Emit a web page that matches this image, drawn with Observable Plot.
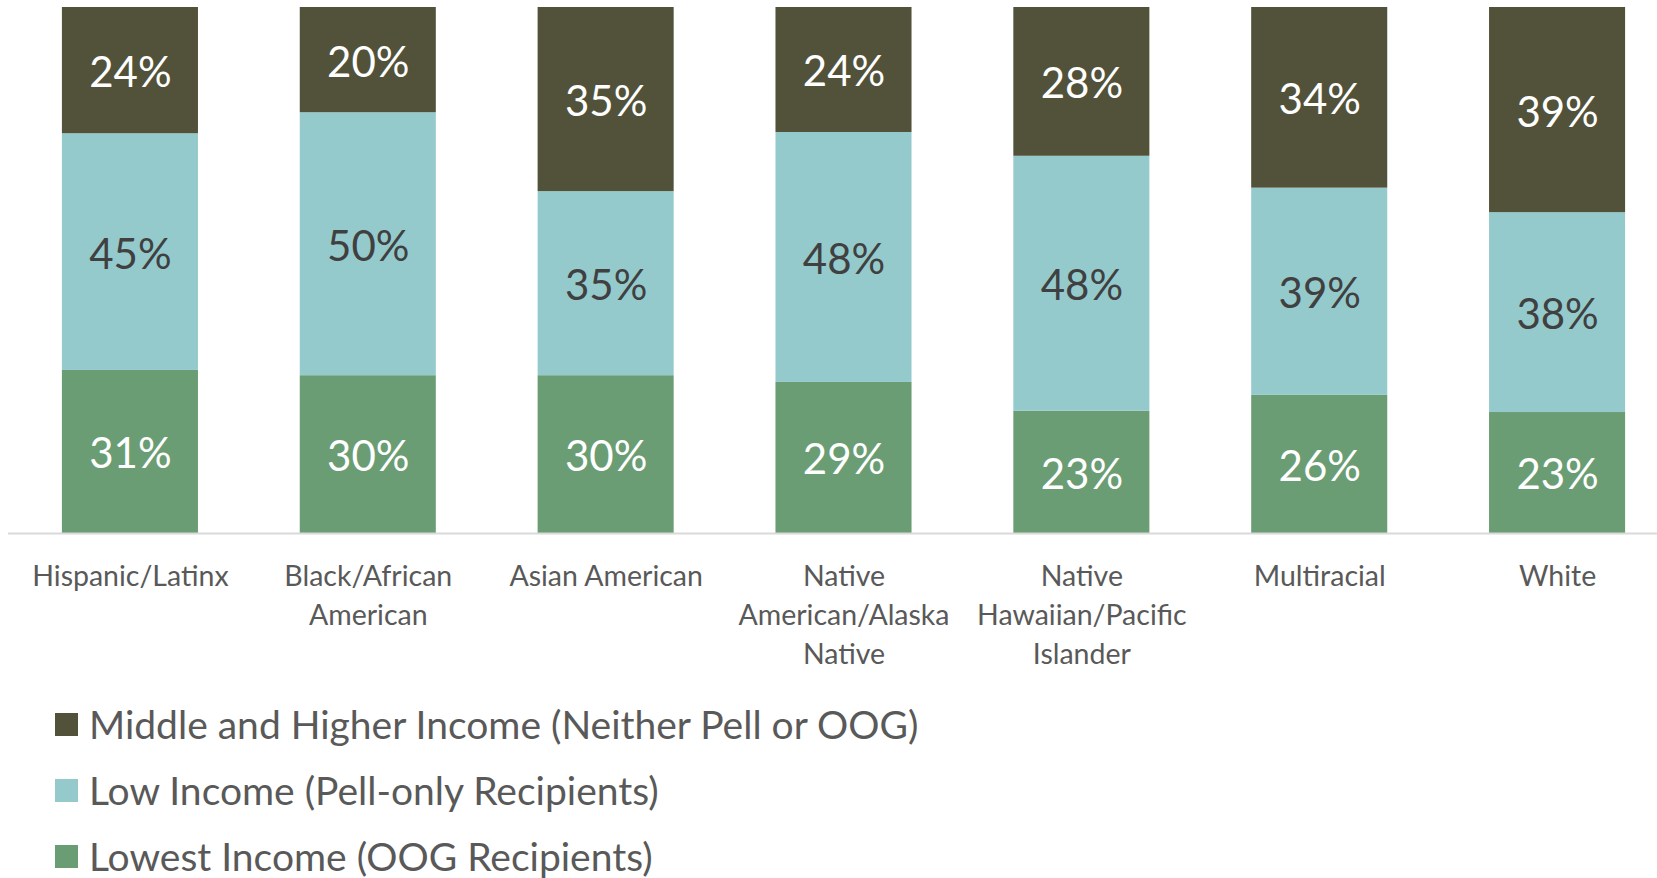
<!DOCTYPE html>
<html>
<head>
<meta charset="utf-8">
<script src="https://cdn.jsdelivr.net/npm/d3@7"></script>
<script src="https://cdn.jsdelivr.net/npm/@observablehq/plot@0.6"></script>
<style>
  html, body { margin: 0; padding: 0; background: #ffffff; }
  #chart svg { display: block; }
  #legend { font-family: Lato, sans-serif; color: #595959; padding-left: 55px; margin-top: 11px; }
  .item { display: flex; align-items: center; height: 66px; font-size: 39px; line-height: 1; white-space: nowrap; }
  .sw { width: 23px; height: 23px; margin-right: 11px; flex: none; }
</style>
</head>
<body>
<div id="chart"></div>
<div id="legend"></div>
<script>
const categories = ["Hispanic/Latinx", "Black/African American", "Asian American", "Native American/Alaska Native", "Native Hawaiian/Pacific Islander", "Multiracial", "White"];
const tickLabels = ["Hispanic/Latinx", "Black/African\nAmerican", "Asian American", "Native\nAmerican/Alaska\nNative", "Native\nHawaiian/Pacific\nIslander", "Multiracial", "White"];
const series = ["Lowest Income (OOG Recipients)", "Low Income (Pell-only Recipients)", "Middle and Higher Income (Neither Pell or OOG)"];
const lowest = [31, 30, 30, 29, 23, 26, 23];
const low = [45, 50, 35, 48, 48, 39, 38];
const middle = [24, 20, 35, 24, 28, 34, 39];
const colors = ["#6b9d74", "#95cacd", "#52523a"];
const labelColors = ["#ffffff", "#404040", "#ffffff"];
const legendOrder = [2, 1, 0];

const seriesValues = [lowest, low, middle];
const rows = categories.flatMap((c, i) => series.map((s, k) => ({category: c, series: s, value: seriesValues[k][i]})));

const labelMarks = series.map((s, k) =>
  Plot.text(rows, Plot.filter(d => d.series === s,
    Plot.stackY({offset: "normalize"}, {
      x: "category", y: "value", z: "series",
      text: d => d.value + "%",
      fill: labelColors[k], fontSize: 42, dy: 3
    })))
);

const chart = Plot.plot({
  width: 1657,
  height: 680,
  marginTop: 7,
  marginBottom: 147,
  marginLeft: 8,
  marginRight: 0,
  style: {fontFamily: "Lato, sans-serif", background: "#ffffff"},
  x: {domain: categories, range: [11, 1676], paddingInner: 0.428, paddingOuter: 0.214, round: false},
  y: {axis: null, domain: [0, 1]},
  color: {domain: series, range: colors},
  marks: [
    Plot.barY(rows, Plot.stackY({offset: "normalize"}, {x: "category", y: "value", z: "series", fill: "series"})),
    Plot.ruleY([0], {stroke: "#d9d9d9", strokeWidth: 2}),
    ...labelMarks,
    Plot.axisX({
      tickSize: 0, tickPadding: 25, fontSize: 28.5, lineHeight: 1.37,
      color: "#595959", label: null,
      tickFormat: d => tickLabels[categories.indexOf(d)]
    })
  ]
});
document.getElementById("chart").appendChild(chart);

const legend = document.getElementById("legend");
for (const k of legendOrder) {
  const item = document.createElement("div");
  item.className = "item";
  const sw = document.createElement("span");
  sw.className = "sw";
  sw.style.background = colors[k];
  const t = document.createElement("span");
  t.textContent = series[k];
  item.appendChild(sw);
  item.appendChild(t);
  legend.appendChild(item);
}
</script>
</body>
</html>
